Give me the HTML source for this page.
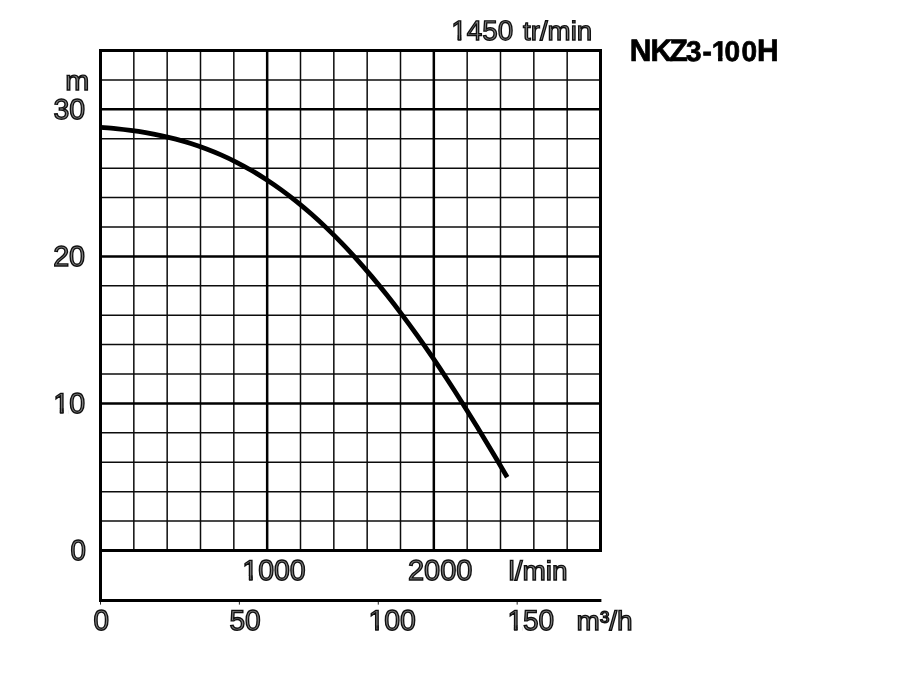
<!DOCTYPE html>
<html lang="fr">
<head>
<meta charset="utf-8">
<title>NKZ3-100H</title>
<style>
html,body{margin:0;padding:0;background:#fff;}
body{width:900px;height:700px;overflow:hidden;}
.wrap{width:900px;height:700px;will-change:transform;transform:translateZ(0);}
svg{display:block;}
text{font-family:"Liberation Sans",sans-serif;text-rendering:geometricPrecision;}
.lbl{font-size:28px;fill:#828282;stroke:#101010;stroke-width:1.35;}
.ttl{font-weight:bold;fill:#000;stroke:#000;stroke-width:0.7;}
.stem{fill:none;stroke:#101010;stroke-width:1.35;}
.cap{font-size:30px;}
.dig{font-size:28px;}
.thin{stroke:#0c0c0c;stroke-width:1.5;fill:none;}
.mid{stroke:#000;stroke-width:2.5;fill:none;}
.thick{stroke:#000;stroke-width:3;fill:none;}
.tick{stroke:#222;stroke-width:1;fill:none;}
.curve{stroke:#000;stroke-width:4.8;fill:none;stroke-linecap:butt;stroke-linejoin:round;}
</style>
</head>
<body>
<div class="wrap">
<svg width="900" height="700" viewBox="0 0 900 700">
<defs>
<clipPath id="nofoot"><path clip-rule="evenodd" d="M-10,-40 H300 V20 H-10 Z M0,-3.8 H6.47 V2 H0 Z M10.15,-3.8 H15.3 V2 H10.15 Z"/></clipPath>
<clipPath id="nofootb"><path clip-rule="evenodd" d="M-10,-40 H300 V20 H-10 Z M0,-4.7 H6.25 V2 H0 Z M10.68,-4.7 H16 V2 H10.68 Z"/></clipPath>
</defs>
<rect x="0" y="0" width="900" height="700" fill="#fff"/>

<g class="thin">
<line x1="133.83" y1="50.5" x2="133.83" y2="550.5"/>
<line x1="167.17" y1="50.5" x2="167.17" y2="550.5"/>
<line x1="200.50" y1="50.5" x2="200.50" y2="550.5"/>
<line x1="233.83" y1="50.5" x2="233.83" y2="550.5"/>
<line x1="300.50" y1="50.5" x2="300.50" y2="550.5"/>
<line x1="333.83" y1="50.5" x2="333.83" y2="550.5"/>
<line x1="367.17" y1="50.5" x2="367.17" y2="550.5"/>
<line x1="400.50" y1="50.5" x2="400.50" y2="550.5"/>
<line x1="467.17" y1="50.5" x2="467.17" y2="550.5"/>
<line x1="500.50" y1="50.5" x2="500.50" y2="550.5"/>
<line x1="533.83" y1="50.5" x2="533.83" y2="550.5"/>
<line x1="567.17" y1="50.5" x2="567.17" y2="550.5"/>
<line x1="100.5" y1="79.91" x2="600.5" y2="79.91"/>
<line x1="100.5" y1="138.74" x2="600.5" y2="138.74"/>
<line x1="100.5" y1="168.15" x2="600.5" y2="168.15"/>
<line x1="100.5" y1="197.56" x2="600.5" y2="197.56"/>
<line x1="100.5" y1="226.97" x2="600.5" y2="226.97"/>
<line x1="100.5" y1="285.79" x2="600.5" y2="285.79"/>
<line x1="100.5" y1="315.21" x2="600.5" y2="315.21"/>
<line x1="100.5" y1="344.62" x2="600.5" y2="344.62"/>
<line x1="100.5" y1="374.03" x2="600.5" y2="374.03"/>
<line x1="100.5" y1="432.85" x2="600.5" y2="432.85"/>
<line x1="100.5" y1="462.26" x2="600.5" y2="462.26"/>
<line x1="100.5" y1="491.68" x2="600.5" y2="491.68"/>
<line x1="100.5" y1="521.09" x2="600.5" y2="521.09"/>
</g>
<g class="mid">
<line x1="267.17" y1="50.5" x2="267.17" y2="550.5"/>
<line x1="433.83" y1="50.5" x2="433.83" y2="550.5"/>
<line x1="100.5" y1="109.32" x2="600.5" y2="109.32"/>
<line x1="100.5" y1="256.38" x2="600.5" y2="256.38"/>
<line x1="100.5" y1="403.44" x2="600.5" y2="403.44"/>
</g>
<g class="tick">
<line x1="100.50" y1="600.5" x2="100.50" y2="604.6"/>
<line x1="239.39" y1="600.5" x2="239.39" y2="604.6"/>
<line x1="378.28" y1="600.5" x2="378.28" y2="604.6"/>
<line x1="517.17" y1="600.5" x2="517.17" y2="604.6"/>
</g>
<g class="thick">
<path d="M600.5,552.0 V50.5 H100.5 V600.5 H601.4" stroke-linejoin="miter"/>
<line x1="100.5" y1="550.5" x2="600.5" y2="550.5"/>
</g>
<path class="curve" d="M100.50,127.27 C103.01,127.50 110.54,128.10 115.56,128.62 C120.58,129.14 125.61,129.71 130.63,130.38 C135.65,131.05 140.67,131.79 145.69,132.65 C150.71,133.51 155.73,134.45 160.75,135.53 C165.77,136.61 170.79,137.79 175.81,139.12 C180.83,140.45 185.86,141.89 190.88,143.49 C195.90,145.09 200.92,146.82 205.94,148.72 C210.96,150.62 215.98,152.67 221.00,154.89 C226.02,157.11 231.05,159.47 236.07,162.03 C241.09,164.59 246.11,167.31 251.13,170.22 C256.15,173.13 261.17,176.22 266.19,179.49 C271.21,182.77 276.24,186.22 281.26,189.87 C286.28,193.52 291.30,197.35 296.32,201.38 C301.34,205.41 306.36,209.63 311.38,214.05 C316.40,218.47 321.42,223.08 326.44,227.89 C331.46,232.70 336.49,237.71 341.51,242.90 C346.53,248.09 351.55,253.48 356.57,259.06 C361.59,264.64 366.61,270.41 371.63,276.37 C376.65,282.33 381.68,288.48 386.70,294.80 C391.72,301.12 396.74,307.64 401.76,314.32 C406.78,321.00 411.80,327.87 416.82,334.89 C421.84,341.91 426.87,349.12 431.89,356.47 C436.91,363.82 441.93,371.35 446.95,379.01 C451.97,386.67 456.99,394.49 462.01,402.43 C467.03,410.37 472.05,418.47 477.07,426.67 C482.09,434.87 487.12,443.21 492.14,451.65 C497.16,460.08 504.69,473.01 507.20,477.28"/>
<g class="labels">
<text class="lbl" transform="translate(451.23,40.00) scale(0.9933,0.995)" clip-path="url(#nofoot)">1450</text> <text class="lbl" transform="translate(523.00,40.00) scale(0.9890,0.95)">tr/min</text>
<text class="lbl" transform="translate(65.22,90.00) scale(1.0316,0.985)">m</text>
<text class="lbl" transform="translate(53.40,119.00) scale(1.0189,1.02)">30</text>
<text class="lbl" transform="translate(53.13,266.00) scale(1.0264,1.02)">20</text>
<text class="lbl" transform="translate(53.25,413.00) scale(1.0206,1.02)" clip-path="url(#nofoot)">10</text>
<text class="lbl" transform="translate(70.55,560.00) scale(0.9909,1.02)">0</text>
<text class="lbl" transform="translate(242.34,580.00) scale(1.0169,1.02)" clip-path="url(#nofoot)">1000</text>
<text class="lbl" transform="translate(407.89,580.00) scale(1.0364,1.02)">2000</text>
<text class="lbl" transform="translate(508.42,580.00) scale(1.0016,0.965)">l/min</text>
<text class="lbl" transform="translate(93.39,630.00) scale(0.9985,1.02)">0</text>
<text class="lbl" transform="translate(229.42,630.00) scale(1.0057,1.02)">50</text>
<text class="lbl" transform="translate(368.50,630.00) scale(1.0152,1.02)" clip-path="url(#nofoot)">100</text>
<text class="lbl" transform="translate(507.44,630.00) scale(1.0012,1.02)" clip-path="url(#nofoot)">150</text>
<text class="lbl" transform="translate(576.55,630.00) scale(1.0007,0.965)">m³/h</text>
</g>
<g class="stems"><path class="stem" transform="translate(451.23,40.00) scale(0.9933,0.995)" d="M7.065,-4.5 V0 M9.515,-4.5 V0"/><path class="stem" transform="translate(53.25,413.00) scale(1.0206,1.02)" d="M7.065,-4.5 V0 M9.515,-4.5 V0"/><path class="stem" transform="translate(242.34,580.00) scale(1.0169,1.02)" d="M7.065,-4.5 V0 M9.515,-4.5 V0"/><path class="stem" transform="translate(368.50,630.00) scale(1.0152,1.02)" d="M7.065,-4.5 V0 M9.515,-4.5 V0"/><path class="stem" transform="translate(507.44,630.00) scale(1.0012,1.02)" d="M7.065,-4.5 V0 M9.515,-4.5 V0"/></g>
<g class="ttl"><text class="cap" transform="translate(0,61) scale(1,1.03)" x="629.83 650.42 669.40" y="0">NKZ</text><text class="dig" transform="translate(0,61) scale(1,1.015)" x="686.10 702.44" y="0">3-</text><text class="dig" transform="translate(711.80,61) scale(1,1.015)" clip-path="url(#nofootb)">1</text><text class="dig" transform="translate(0,61) scale(1,1.015)" x="724.58 741.58" y="0">00</text><text class="cap" transform="translate(0,61) scale(1,1.03)" x="757.00" y="0">H</text></g>
</svg>
</div>
</body>
</html>
